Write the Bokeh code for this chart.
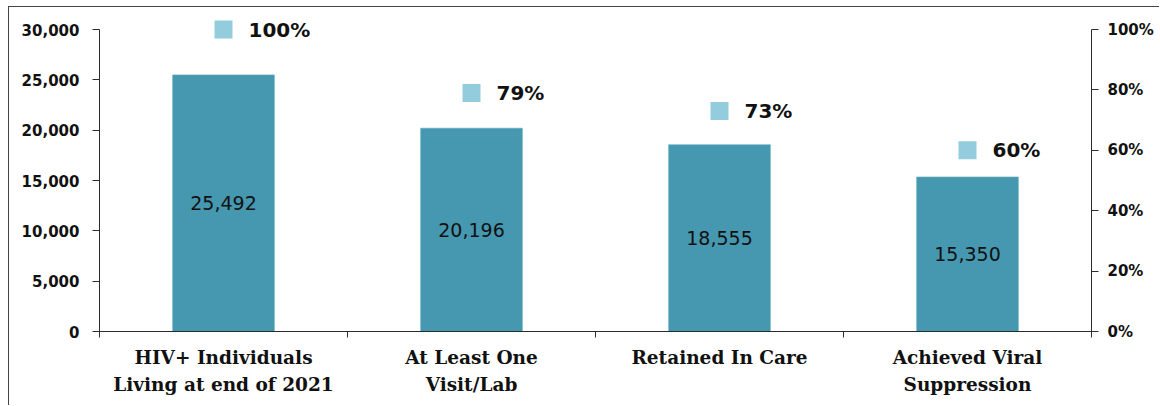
import numpy as np
from bokeh.plotting import figure
from bokeh.models import (Range1d, LinearAxis, FixedTicker, NumeralTickFormatter,
                          ColumnDataSource, LabelSet)
from bokeh.core.properties import value
from bokeh.embed import file_html
from bokeh.resources import INLINE

# Care continuum data
categories = ["HIV+ Individuals\nLiving at end of 2021", "At Least One\nVisit/Lab",
              "Retained In Care", "Achieved Viral\nSuppression"]
counts = [25492, 20196, 18555, 15350]
percents = [1.00, 0.79, 0.73, 0.60]
count_ticks = [0, 5000, 10000, 15000, 20000, 25000, 30000]
pct_ticks = [0.0, 0.2, 0.4, 0.6, 0.8, 1.0]

BAR = "#4598AF"
MARK = "#93CDDD"
INK = "#111111"
AXIS = "#2b2b2b"

COUNT_MAX = count_ticks[-1]
PCT_MAX = pct_ticks[-1]
HEADROOM = 1.063  # space above the top tick for the 100% marker

n = len(categories)
centers = np.arange(n) + 0.5
bounds = list(np.arange(n + 1).astype(float))

src = ColumnDataSource(dict(
    x=centers,
    count=counts,
    half=[c / 2 for c in counts],
    count_lbl=[f"{c:,}" for c in counts],
    pct=percents,
    pct_lbl=[f"{round(v * 100)}%" for v in percents],
))

p = figure(width=1151, height=399, output_backend="svg", toolbar_location=None,
           x_range=Range1d(0, n), y_range=Range1d(0, COUNT_MAX * HEADROOM),
           min_border_left=90, min_border_right=69, min_border_top=3, min_border_bottom=75)
p.styles = {"margin-left": "8px", "margin-top": "6px",
            "border-left": "1px solid #444444", "border-top": "1px solid #444444"}
p.extra_y_ranges = {"pct": Range1d(0, PCT_MAX * HEADROOM)}
p.xaxis.visible = False
p.yaxis.visible = False
p.grid.visible = False
p.outline_line_color = None
p.background_fill_color = "white"
p.border_fill_color = "white"

# bars and their value labels
p.vbar(x="x", top="count", width=0.41, source=src, fill_color=BAR,
       line_color="#5aaabf", line_width=0.6)
p.add_layout(LabelSet(x="x", y="half", text="count_lbl", source=src,
                      text_align="center", text_baseline="middle",
                      text_font=value("DejaVu Sans"), text_font_size="19px",
                      text_color=INK))

# percentage markers on the secondary scale
p.scatter(x="x", y="pct", source=src, marker="square", size=18,
          fill_color=MARK, line_color=None, y_range_name="pct")
p.add_layout(LabelSet(x="x", y="pct", text="pct_lbl", source=src, y_range_name="pct",
                      x_offset=25, text_align="left", text_baseline="middle",
                      text_font=value("DejaVu Sans"), text_font_style="bold",
                      text_font_size="20px", text_color=INK))

# left count axis
left = LinearAxis(ticker=FixedTicker(ticks=count_ticks, minor_ticks=[]),
                  formatter=NumeralTickFormatter(format="0,0"), bounds=(0, COUNT_MAX))
left.major_label_text_font = "DejaVu Sans"
left.major_label_text_font_style = "bold"
left.major_label_text_font_size = "15px"
left.major_label_text_color = INK
left.major_tick_out = 7
left.major_tick_in = 0
left.major_label_standoff = 13
left.axis_line_color = AXIS
left.major_tick_line_color = AXIS
p.add_layout(left, "left")

# right percentage axis
right = LinearAxis(y_range_name="pct", ticker=FixedTicker(ticks=pct_ticks, minor_ticks=[]),
                   formatter=NumeralTickFormatter(format="0%"), bounds=(0, PCT_MAX))
right.major_label_text_font = "DejaVu Sans"
right.major_label_text_font_style = "bold"
right.major_label_text_font_size = "15px"
right.major_label_text_color = INK
right.major_tick_out = 7
right.major_tick_in = 0
right.major_label_standoff = 9
right.axis_line_color = AXIS
right.major_tick_line_color = AXIS
p.add_layout(right, "right")

# bottom axis: labels at category centres, tick marks at category boundaries
bottom = LinearAxis(ticker=FixedTicker(ticks=list(centers), minor_ticks=bounds))
bottom.major_label_overrides = {float(c): lbl for c, lbl in zip(centers, categories)}
bottom.major_label_text_font = "DejaVu Serif"
bottom.major_label_text_font_style = "bold"
bottom.major_label_text_font_size = "18.5px"
bottom.major_label_text_color = INK
bottom.major_label_text_line_height = 1.3
bottom.major_tick_out = 0
bottom.major_tick_in = 0
bottom.minor_tick_out = 6
bottom.minor_tick_in = 0
bottom.major_label_standoff = 9
bottom.axis_line_color = AXIS
bottom.minor_tick_line_color = AXIS
p.add_layout(bottom, "below")

open("out.html", "w").write(file_html(p, INLINE))
